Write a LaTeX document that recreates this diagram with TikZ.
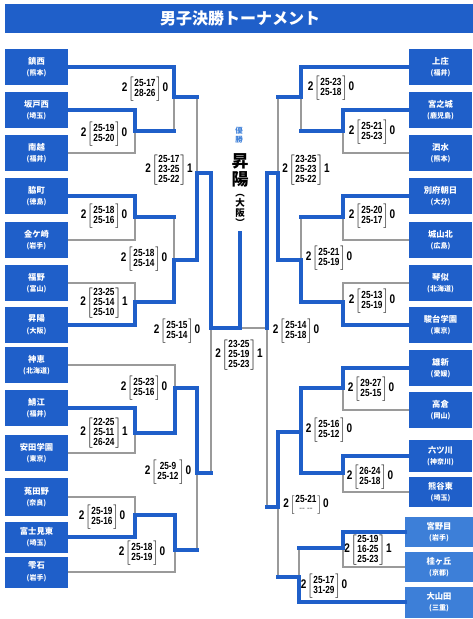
\documentclass[tikz,border=0pt]{standalone}
\usepackage{fontspec}
\usepackage{tikz}
\newfontfamily\jp{Noto Sans CJK JP}
\newfontfamily\numfont[FakeStretch=0.8]{Liberation Sans}
\definecolor{blue1}{HTML}{1F5FC9}
\definecolor{blue2}{HTML}{3D7FD8}
\definecolor{gray1}{HTML}{9A9A9A}
\renewcommand{\arraystretch}{0.92}
% set score: winner sets [games] loser sets
\newcommand{\res}[3]{{\fontsize{12.5}{12.5}\selectfont #1}\hspace{1pt}$\left[\vcenter{\hbox{\begin{tabular}{@{\hspace{0.8pt}}c@{\hspace{0.8pt}}}#2\end{tabular}}}\right]$\hspace{1pt}{\fontsize{12.5}{12.5}\selectfont #3}}
\newcommand{\pref}[1]{{\fontsize{7}{8}\selectfont(#1)}}

\begin{document}
\begin{tikzpicture}[x=1pt, y=-1pt, every node/.style={inner sep=0pt},
  team/.style={fill=blue1, text=white, minimum width=63pt, minimum height=36pt, align=center, font=\jp\bfseries\fontsize{8.3}{11.5}\selectfont},
  win/.style={blue1, line width=3.6pt, line cap=rect},
  lose/.style={gray1, line width=1.2pt},
  score/.style={font=\numfont\bfseries\fontsize{10.3}{10.3}\selectfont}]

  \useasboundingbox (0,0) rectangle (473,619);

  % title bar
  \fill[blue1] (5,4) rectangle (473,33);
  \node[text=white, font=\jp\bfseries\fontsize{16}{16}\selectfont] (title) at (240,18.5) {男子決勝トーナメント};

  % left teams
  \node[team] (L1) at (36.5,67) {鎮西\\\pref{熊本}};
  \node[team] (L2) at (36.5,110) {坂戸西\\\pref{埼玉}};
  \node[team] (L3) at (36.5,153) {南越\\\pref{福井}};
  \node[team] (L4) at (36.5,196) {脇町\\\pref{徳島}};
  \node[team] (L5) at (36.5,240) {金ケ崎\\\pref{岩手}};
  \node[team] (L6) at (36.5,283) {福野\\\pref{富山}};
  \node[team] (L7) at (36.5,325) {昇陽\\\pref{大阪}};
  \node[team] (L8) at (36.5,365) {神恵\\\pref{北海道}};
  \node[team] (L9) at (36.5,408) {鯖江\\\pref{福井}};
  \node[team] (L10) at (36.5,453) {安田学園\\\pref{東京}};
  \node[team, minimum height=38pt] (L11) at (36.5,497) {菟田野\\\pref{奈良}};
  \node[team, minimum height=31pt] (L12) at (36.5,537) {富士見東\\\pref{埼玉}};
  \node[team, minimum height=31pt] (L13) at (36.5,572) {雫石\\\pref{岩手}};

  % right teams
  \node[team] (R1) at (440.5,67) {上庄\\\pref{福井}};
  \node[team] (R2) at (440.5,110) {宮之城\\\pref{鹿児島}};
  \node[team] (R3) at (440.5,153) {泗水\\\pref{熊本}};
  \node[team] (R4) at (440.5,196) {別府朝日\\\pref{大分}};
  \node[team] (R5) at (440.5,240) {城山北\\\pref{広島}};
  \node[team] (R6) at (440.5,283) {琴似\\\pref{北海道}};
  \node[team] (R7) at (440.5,325) {駿台学園\\\pref{東京}};
  \node[team] (R8) at (440.5,368) {雄新\\\pref{愛媛}};
  \node[team] (R9) at (440.5,410) {高倉\\\pref{岡山}};
  \node[team, minimum height=32pt] (R10) at (440.5,456) {六ツ川\\\pref{神奈川}};
  \node[team, minimum height=30pt] (R11) at (440.5,492) {熊谷東\\\pref{埼玉}};
  \node[team, fill=blue2, minimum width=68pt, minimum height=30pt] (R12) at (439,532) {宮野目\\\pref{岩手}};
  \node[team, fill=blue2, minimum width=68pt, minimum height=30pt] (R13) at (439,567) {桂ヶ丘\\\pref{京都}};
  \node[team, fill=blue2, minimum width=68pt, minimum height=31pt] (R14) at (439,602) {大山田\\\pref{三重}};

  % joints, left half
  \coordinate (jA) at (135,131);
  \coordinate (jB) at (174,97);
  \coordinate (jC) at (135,217);
  \coordinate (jD) at (135,302);
  \coordinate (jE) at (174,260);
  \coordinate (jF) at (197,173);
  \coordinate (jH) at (135,433);
  \coordinate (jI) at (175,388);
  \coordinate (jJ) at (135,515);
  \coordinate (jK) at (175,550);
  \coordinate (jL) at (197,473);
  \coordinate (jG) at (211,328);
  % joints, right half
  \coordinate (jrA) at (343,131);
  \coordinate (jrB) at (301,97);
  \coordinate (jrC) at (343,217);
  \coordinate (jrD) at (343,302);
  \coordinate (jrE) at (301,260);
  \coordinate (jrF) at (278,173);
  \coordinate (jrH) at (343,388);
  \coordinate (jrI) at (343,473);
  \coordinate (jrJ) at (301,432);
  \coordinate (jrK) at (343,548);
  \coordinate (jrL) at (299,577);
  \coordinate (jrM) at (278,507);
  \coordinate (jrG) at (267,328);
  % final
  \coordinate (jW) at (240,328);
  \coordinate (top) at (240,233);

  % losing lines
  \draw[lose] (L3.east) -| (jA);
  \draw[lose] (jA -| jB) -- (jB);
  \draw[lose] (jB -| jF) -- (jF);
  \draw[lose] (L5.east) -| (jC);
  \draw[lose] (jC -| jE) -- (jE);
  \draw[lose] (L6.east) -| (jD);
  \draw[lose] (L8.east) -| (jI);
  \draw[lose] (L10.east) -| (jH);
  \draw[lose] (L11.east) -| (jJ);
  \draw[lose] (L13.east) -| (jK);
  \draw[lose] (jK -| jL) -- (jL);
  \draw[lose] (jL -| jG) -- (jG);

  \draw[lose] (R3.west) -| (jrA);
  \draw[lose] (jrA -| jrB) -- (jrB);
  \draw[lose] (jrB -| jrF) -- (jrF);
  \draw[lose] (R5.west) -| (jrC);
  \draw[lose] (jrC -| jrE) -- (jrE);
  \draw[lose] (R6.west) -| (jrD);
  \draw[lose] (R9.west) -| (jrH);
  \draw[lose] (R11.west) -| (jrI);
  \draw[lose] (R13.west) -| (jrK);
  \draw[lose] (jrK -| jrL) -- (jrL);
  \draw[lose] (jrL -| jrM) -- (jrM);
  \draw[lose] (jrM -| jrG) -- (jrG);
  \draw[lose] (jrG) -- (jW);

  % winning lines
  \draw[win] (L1.east) -| (jB) -- (jB -| jF);
  \draw[win] (L2.east) -| (jA) -- (jA -| jB);
  \draw[win] (L4.east) -| (jC) -- (jC -| jE);
  \draw[win] (L7.east) -| (jD) -- (jD -| jE) -- (jE) -- (jE -| jF) -- (jF)
    -- (jF -| jG) -- (jG) -- (jW) -- (top);
  \draw[win] (L9.east) -| (jH) -- (jH -| jI) -- (jI) -- (jI -| jL) -- (jL) -- (jL -| jG);
  \draw[win] (L12.east) -| (jJ) -- (jJ -| jK) -- (jK) -- (jK -| jL);

  \draw[win] (R1.west) -| (jrB) -- (jrB -| jrF);
  \draw[win] (R2.west) -| (jrA) -- (jrA -| jrB);
  \draw[win] (R4.west) -| (jrC) -- (jrC -| jrE);
  \draw[win] (R7.west) -| (jrD) -- (jrD -| jrE) -- (jrE) -- (jrE -| jrF) -- (jrF)
    -- (jrF -| jrG) -- (jrG);
  \draw[win] (R8.west) -| (jrH) -- (jrH -| jrJ) -- (jrJ) -- (jrJ -| jrM) -- (jrM) -- (jrM -| jrG);
  \draw[win] (R10.west) -| (jrI) -- (jrI -| jrJ) -- (jrJ);
  \draw[win] (R12.west) -| (jrK) -- (jrK -| jrL);
  \draw[win] (R14.west) -| (jrL) -- (jrL -| jrM);

  % champion
  \node[text=blue2, align=center, font=\jp\bfseries\fontsize{7.5}{9}\selectfont] (yusho) at (239,135) {優\\勝};
  \node[align=center, font=\jp\bfseries\fontsize{17}{18}\selectfont] (champ) at (240,170) {昇\\陽};
  \node[align=center, font=\jp\bfseries\fontsize{9.5}{10}\selectfont] (champpref) at (240,210) {︵\\大\\阪\\︶};

  % scores, left half
  \node[score] (sA) at (104,134) {\res{2}{25-19\\25-20}{0}};
  \node[score] (sB) at (145,89) {\res{2}{25-17\\28-26}{0}};
  \node[score] (sC) at (104,216) {\res{2}{25-18\\25-16}{0}};
  \node[score] (sD) at (104,303) {\res{2}{23-25\\25-14\\25-10}{1}};
  \node[score] (sE) at (144,259) {\res{2}{25-18\\25-14}{0}};
  \node[score] (sF) at (169,170) {\res{2}{25-17\\23-25\\25-22}{1}};
  \node[score] (sG) at (177,331) {\res{2}{25-15\\25-14}{0}};
  \node[score] (sH) at (104,433) {\res{2}{22-25\\25-11\\26-24}{1}};
  \node[score] (sI) at (144,388) {\res{2}{25-23\\25-16}{0}};
  \node[score] (sL) at (168,472) {\res{2}{25-9\\25-12}{0}};
  \node[score] (sJ) at (102,517) {\res{2}{25-19\\25-16}{0}};
  \node[score] (sK) at (142,553) {\res{2}{25-18\\25-19}{0}};
  % final
  \node[score] (sW) at (239,355) {\res{2}{23-25\\25-19\\25-23}{1}};
  % scores, right half
  \node[score] (srB) at (331,88) {\res{2}{25-23\\25-18}{0}};
  \node[score] (srA) at (372,132) {\res{2}{25-21\\25-23}{0}};
  \node[score] (srF) at (306,170) {\res{2}{23-25\\25-23\\25-22}{1}};
  \node[score] (srC) at (372,216) {\res{2}{25-20\\25-17}{0}};
  \node[score] (srE) at (329,258) {\res{2}{25-21\\25-19}{0}};
  \node[score] (srD) at (372,301) {\res{2}{25-13\\25-19}{0}};
  \node[score] (srG) at (296,331) {\res{2}{25-14\\25-18}{0}};
  \node[score] (srH) at (371,389) {\res{2}{29-27\\25-15}{0}};
  \node[score] (srJ) at (329,430) {\res{2}{25-16\\25-12}{0}};
  \node[score] (srI) at (370,477) {\res{2}{26-24\\25-18}{0}};
  \node[score] (srM) at (306,505) {\res{2}{25-21\\\textcolor{gray1}{-- --}}{0}};
  \node[score] (srK) at (368,550) {\res{2}{25-19\\16-25\\25-23}{1}};
  \node[score] (srL) at (324,586) {\res{2}{25-17\\31-29}{0}};

\end{tikzpicture}
\end{document}
